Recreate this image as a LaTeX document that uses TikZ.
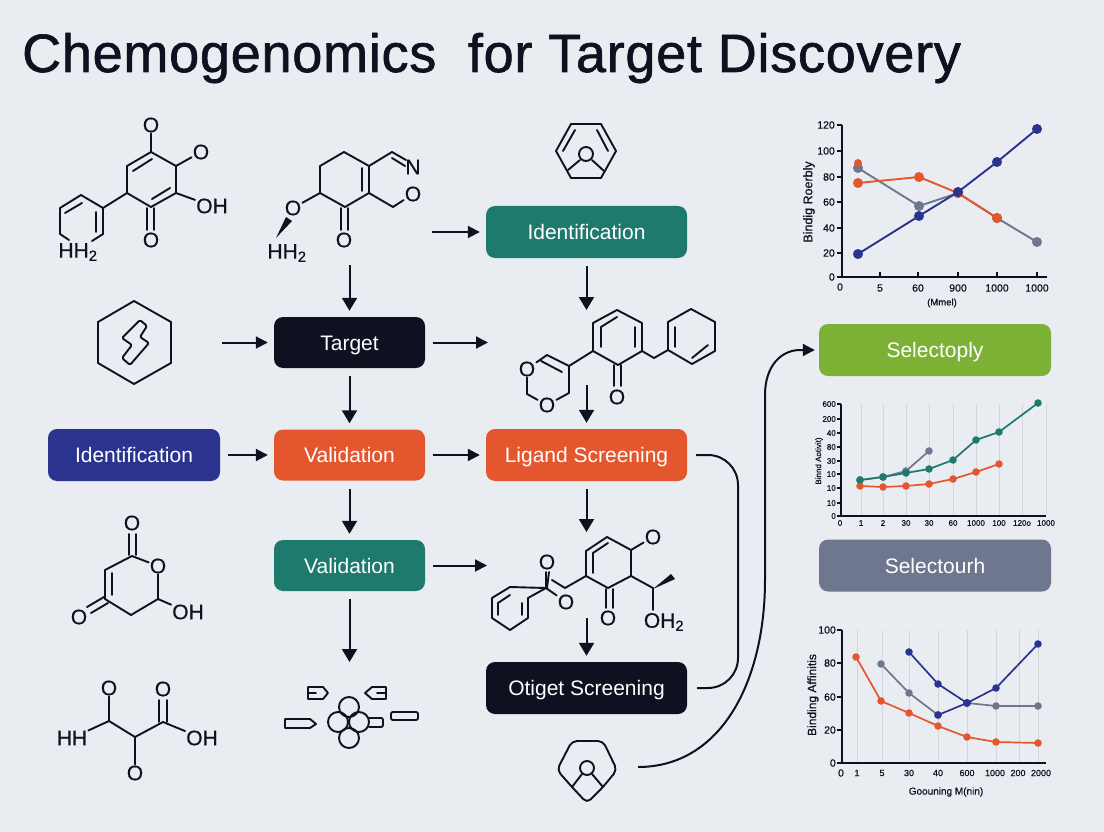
\documentclass[tikz,border=0pt]{standalone}
\usepackage{fontspec}
\setmainfont{Liberation Sans}
\newfontfamily\titlefont[FakeBold=1.2,LetterSpace=1.4]{Liberation Sans}
\newfontfamily\medfont[FakeBold=0.6]{Liberation Sans}
\usepackage{xcolor}
\usetikzlibrary{arrows.meta,calc}
\definecolor{bgcol}{HTML}{E9EDF1}
\definecolor{inkcol}{HTML}{0D1120}
\definecolor{tealcol}{HTML}{1D7A6C}
\definecolor{orangecol}{HTML}{E4572E}
\definecolor{navycol}{HTML}{2A348F}
\definecolor{limecol}{HTML}{7DB135}
\definecolor{greycol}{HTML}{6F778F}
\definecolor{gridcol}{HTML}{D3D7DC}
\tikzstyle{flowbox} = [rounded corners=9pt, minimum width=151pt, minimum height=51pt, inner sep=0pt, text=white, text height=15pt, text depth=0pt, font=\fontsize{21}{22}\selectfont]
\tikzstyle{widebox} = [flowbox, minimum width=201pt, minimum height=52pt]
\tikzstyle{sidebox} = [flowbox, minimum width=232pt, minimum height=52pt]
\tikzstyle{arrow} = [line width=2pt, draw=inkcol, -{Triangle[length=13pt,width=15pt]}, shorten >=6pt, shorten <=8pt]
\tikzstyle{harrow} = [arrow, -{Triangle[length=12pt,width=12pt]}]
\tikzstyle{link} = [line width=2pt, draw=inkcol]
\tikzstyle{bond} = [line width=1.9pt, draw=inkcol, line join=round, line cap=round]
\tikzstyle{atom} = [inner sep=1pt, text=inkcol, font=\medfont\fontsize{21}{21}\selectfont]
\tikzstyle{axisline} = [line width=1.2pt, draw=inkcol]
\tikzstyle{gridline} = [line width=0.7pt, draw=gridcol]
\tikzstyle{tickbig} = [inner sep=0pt, text=inkcol, font=\medfont\fontsize{10.5}{11}\selectfont]
\tikzstyle{ticksmall} = [inner sep=0pt, text=inkcol, font=\medfont\fontsize{8}{9}\selectfont]
\tikzstyle{serie} = [line width=1.9pt, line join=round, mark=*, mark size=4pt]
\tikzstyle{seriesmall} = [line width=1.7pt, line join=round, mark=*, mark size=2.9pt]
\begin{document}
\begin{tikzpicture}[x=1pt, y=-1pt]
    \fill[bgcol] (0,0) rectangle (1104,832);
    \useasboundingbox (0,0) rectangle (1104,832);
    \node[anchor=base west, inner sep=0pt, text=inkcol, font=\titlefont\fontsize{54}{56}\selectfont] (title) at (22,72) {Chemogenomics\ \ for Target Discovery};

    % flow boxes
    \node[flowbox, fill=inkcol] (target) at (349.5,342.5) {Target};
    \node[flowbox, fill=orangecol] (valid) at (349.5,455) {Validation};
    \node[flowbox, fill=tealcol] (validb) at (349.5,565.5) {Validation};
    \node[flowbox, fill=navycol, minimum width=172pt, minimum height=52pt] (ident) at (134,455) {Identification};
    \node[widebox, fill=tealcol] (identb) at (586.5,232) {Identification};
    \node[widebox, fill=orangecol] (ligand) at (586.5,455) {Ligand Screening};
    \node[widebox, fill=inkcol] (otiget) at (586.5,688) {Otiget Screening};
    \node[sidebox, fill=limecol] (selecta) at (935,350) {Selectoply};
    \node[sidebox, fill=greycol] (selectb) at (935,565.5) {Selectourh};

    % free ends of the arrows
    \coordinate (molb) at (349.5,257);
    \coordinate (molbr) at (424,232);
    \coordinate (hexa) at (214,342.5);
    \coordinate (mole) at (494,342.5);
    \coordinate (molf) at (493,565.5);
    \coordinate (clust) at (349.5,668);
    \coordinate (moletop) at (586.5,316);
    \coordinate (molebot) at (586.5,377);
    \coordinate (molftop) at (586.5,538);
    \coordinate (molfbot) at (586.5,610);
    \coordinate (ringend) at (630,767);

    % arrows
    \draw[arrow] (molb) -- (target);
    \draw[harrow] (molbr) -- (identb);
    \draw[harrow] (hexa) -- (target);
    \draw[harrow] (target) -- (mole);
    \draw[arrow] (target) -- (valid);
    \draw[harrow] (ident) -- (valid);
    \draw[harrow] (valid) -- (ligand);
    \draw[arrow] (valid) -- (validb);
    \draw[harrow] (validb) -- (molf);
    \draw[arrow] (validb) -- (clust);
    \draw[arrow] (identb) -- (moletop);
    \draw[arrow] (molebot) -- (ligand);
    \draw[arrow] (ligand) -- (molftop);
    \draw[arrow] (molfbot) -- (otiget);
    \draw[link, rounded corners=30pt, shorten <=9pt, shorten >=10pt] (ligand.east) -- (738,455) -- (738,688) -- (otiget.east);
    \draw[harrow, shorten >=4pt] (ringend) .. controls (722,767) and (765,680) .. (765,580) -- (765,395) .. controls (765,365) and (782,350) .. (800,350) -- (selecta.west);

    % molecule top left
    \node[atom] (aoa) at (151,125) {O};
    \node[atom] (aob) at (201,152) {O};
    \node[atom] (aoh) at (212,206) {OH};
    \node[atom] (aoc) at (151,240) {O};
    \node[atom] (ahh) at (78,252) {HH\textsubscript{2}};
    \draw[bond] (151,152) -- (176,166) -- (176,193) -- (151,207) -- (127,193) -- (127,166) -- cycle;
    \draw[bond] (133,171) -- (152,159);
    \draw[bond] (152,199) -- (170,188);
    \draw[bond] (151,152) -- (aoa);
    \draw[bond] (176,166) -- (aob);
    \draw[bond] (176,193) -- (aoh);
    \draw[bond] (147,208) -- (147,230);
    \draw[bond] (154,208) -- (154,230);
    \draw[bond] (127,193) -- (103,208) -- (81,195) -- (60,208) -- (60,234) -- (69,240);
    \draw[bond] (103,208) -- (103,234) -- (92,241);
    \draw[bond] (96,212) -- (96,232);
    \draw[bond] (65,213) -- (82,203);

    % molecule with the nitrogen
    \node[atom] (bn) at (413,167) {N};
    \node[atom] (bo) at (413,194) {O};
    \node[atom] (bol) at (293,208) {O};
    \node[atom] (boc) at (344,240) {O};
    \node[atom] (bhh) at (287,253) {HH\textsubscript{2}};
    \draw[bond] (344,152) -- (369,166) -- (369,193) -- (345,207) -- (320,193) -- (320,166) -- cycle;
    \draw[bond] (362,168) -- (362,191);
    \draw[bond] (369,166) -- (392,152) -- (406,160);
    \draw[bond] (392,158) -- (405,166);
    \draw[bond] (369,193) -- (393,207) -- (bo);
    \draw[bond] (320,193) -- (bol);
    \draw[bond] (341,208) -- (341,230);
    \draw[bond] (348,208) -- (348,230);
    \fill[inkcol] (276,238) -- (286,217) -- (292,221) -- cycle;

    % hexagon with the bolt
    \draw[bond] (134,301) -- (171,322) -- (171,363) -- (134,384) -- (98,363) -- (98,322) -- cycle;
    \draw[bond, rounded corners=1.5pt] (140,320) -- (147,326) -- (140,337) -- (149,343) -- (130,365) -- (122,358) -- (132,345) -- (122,338) -- cycle;

    % lactone
    \node[atom] (cot) at (132,523) {O};
    \node[atom] (cor) at (158,566) {O};
    \node[atom] (col) at (79,617) {O};
    \node[atom] (coh) at (188,612) {OH};
    \draw[bond] (129,534) -- (129,555);
    \draw[bond] (136,534) -- (136,555);
    \draw[bond] (cor) -- (132,556) -- (105,570) -- (105,599) -- (131,615) -- (158,599) -- (cor);
    \draw[bond] (112,573) -- (112,595);
    \draw[bond] (104,597) -- (87,607);
    \draw[bond] (108,603) -- (91,613);
    \draw[bond] (158,599) -- (coh);

    % open chain
    \node[atom] (doa) at (109,688) {O};
    \node[atom] (dob) at (163,689) {O};
    \node[atom] (doc) at (135,773) {O};
    \node[atom] (dhh) at (72,738) {HH};
    \node[atom] (doh) at (202,738) {OH};
    \draw[bond] (doa) -- (109,721) -- (135,737) -- (163,722) -- (doh);
    \draw[bond] (109,721) -- (dhh);
    \draw[bond] (135,737) -- (doc);
    \draw[bond] (159,700) -- (159,722);
    \draw[bond] (167,700) -- (167,722);

    % cluster
    \draw[bond] (349,707) circle (10);
    \draw[bond] (338,722) circle (10);
    \draw[bond] (359,722) circle (10);
    \draw[bond] (349,738) circle (10);
    \draw[bond] (308,687) -- (323,687) -- (328,693) -- (323,699) -- (308,699) -- cycle;
    \draw[bond] (308,693) -- (316,693);
    \draw[bond] (365,693) -- (372,687) -- (386,687) -- (386,699) -- (372,699) -- cycle;
    \draw[bond] (377,693) -- (386,693);
    \draw[bond] (285,719) -- (310,719) -- (316,724) -- (310,728) -- (285,728) -- cycle;
    \draw[bond, rounded corners=2pt] (369,718) -- (383,718) -- (383,727) -- (369,727);
    \draw[bond, rounded corners=2pt] (391,712) rectangle (418,720);

    % top hexagon
    \draw[bond] (571,124) -- (601,124) -- (616,151) -- (601,178) -- (571,178) -- (556,151) -- cycle;
    \draw[bond] (575,130) -- (563,151);
    \draw[bond] (597,130) -- (608,151);
    \draw[bond] (586,154) circle (7);
    \draw[bond] (580,160) -- (568,170);
    \draw[bond] (592,160) -- (604,171);

    % molecule below the first Identification
    \node[atom] (eo) at (617,397) {O};
    \node[atom] (eol) at (527,369) {O};
    \node[atom] (eob) at (547,405) {O};
    \draw[bond] (617,310) -- (642,323) -- (642,351) -- (618,365) -- (593,351) -- (593,323) -- cycle;
    \draw[bond] (617,317) -- (601,327) -- (601,347);
    \draw[bond] (635,327) -- (635,347);
    \draw[bond] (614,365) -- (614,386);
    \draw[bond] (621,365) -- (621,386);
    \draw[bond] (642,351) -- (654,358) -- (668,350) -- (668,322) -- (691,309) -- (715,322) -- (715,351) -- (692,364) -- (668,350);
    \draw[bond] (675,327) -- (675,347);
    \draw[bond] (692,358) -- (708,345);
    \draw[bond] (593,351) -- (569,366) -- (547,355) -- (eol);
    \draw[bond] (eol) -- (527,394) -- (eob) -- (569,393) -- (569,366);
    \draw[bond] (541,361) -- (562,372);

    % molecule below Ligand Screening
    \node[atom] (fo) at (653,537) {O};
    \node[atom] (foc) at (608,618) {O};
    \node[atom] (fot) at (547,562) {O};
    \node[atom] (fob) at (566,602) {O};
    \node[atom] (foh) at (664,622) {OH\textsubscript{2}};
    \draw[bond] (607,537) -- (631,550) -- (631,576) -- (608,588) -- (586,576) -- (586,551) -- cycle;
    \draw[bond] (608,543) -- (593,553) -- (593,573);
    \draw[bond] (631,550) -- (fo);
    \draw[bond] (606,589) -- (606,608);
    \draw[bond] (613,589) -- (613,608);
    \draw[bond] (631,576) -- (653,588) -- (653,610);
    \fill[inkcol] (653,589) -- (671,574) -- (675,579) -- cycle;
    \draw[bond] (586,576) -- (565,588) -- (552,580);
    \draw[bond] (546,572) -- (546,588) -- (fob);
    \draw[bond] (549,572) -- (547,588);
    \draw[bond] (546,588) -- (528,598) -- (528,618) -- (510,630) -- (492,618) -- (492,598) -- (510,587) -- cycle;
    \draw[bond] (498,603) -- (498,615);
    \draw[bond] (522,603) -- (522,615);
    \draw[bond] (498,603) -- (510,595);

    % bottom ring
    \draw[bond, rounded corners=5pt] (572,741) -- (603,741) -- (617,770) -- (603,787) -- (587,803) -- (572,787) -- (557,770) -- cycle;
    \draw[bond] (587,768) circle (7);
    \draw[bond] (582,774) -- (572,787);
    \draw[bond] (592,774) -- (603,787);

    % chart at the top
    \draw[axisline] (842,125) -- (842,277) -- (1047,277);
    \foreach \y/\t in {125/120,151/100,177/80,202/60,228/40,253/20,277/0} {
        \draw[axisline] (842,\y) -- (837,\y);
        \node[tickbig, anchor=east] (chaty\t) at (835,\y) {\t};
    }
    \foreach \x/\t/\n in {880/5/a,918/60/b,958/900/c,997/1000/d,1037/1000/e} {
        \draw[axisline] (\x,277) -- (\x,272);
        \node[tickbig] (chatx\n) at (\x,288) {\t};
    }
    \node[tickbig] (chatz) at (840,287) {0};
    \node[tickbig, font=\medfont\fontsize{9.5}{10}\selectfont] (chatlab) at (942,303) {(Mmel)};
    \node[tickbig, rotate=90, font=\medfont\fontsize{12.5}{13}\selectfont] (chatylab) at (809,202) {Bindig Roerbly};
    \draw[serie, color=greycol] plot coordinates {(858,168) (919,206) (958,193) (997,218) (1037,242)};
    \draw[serie, color=orangecol] plot coordinates {(858,183) (919,177) (958,193) (997,218)};
    \fill[orangecol] (858,163) circle (4);
    \draw[serie, color=navycol] plot coordinates {(858,254) (919,216) (958,192) (997,162) (1037,129)};

    % chart in the middle
    \foreach \x/\t/\n in {861/1/a,883/2/b,906/30/c,929/30/d,953/60/e,976/1000/f,999/100/g,1022/120o/h,1046/1000/i} {
        \draw[gridline] (\x,404) -- (\x,516);
        \node[ticksmall] (chbtx\n) at (\x,523) {\t};
    }
    \draw[axisline] (841,404) -- (841,516) -- (1046,516);
    \foreach \y/\t/\n in {404/600/a,419/200/b,433/40/c,447/80/d,461/30/e,474/10/f,488/10/g,503/10/h,516/0/i} {
        \draw[axisline] (841,\y) -- (837,\y);
        \node[ticksmall, anchor=east] (chbty\n) at (836,\y) {\t};
    }
    \node[ticksmall] (chbz) at (840,523) {0};
    \node[ticksmall, rotate=90] (chbylab) at (819,461) {Binnd Aotivit)};
    \draw[seriesmall, color=greycol] plot coordinates {(860,480) (883,477) (906,471) (929,451)};
    \draw[seriesmall, color=orangecol] plot coordinates {(860,486) (883,487) (906,486) (929,484) (953,479) (976,472) (999,464)};
    \draw[seriesmall, color=tealcol] plot coordinates {(860,480) (883,477) (906,473) (929,469) (953,460) (976,440) (999,432) (1038,403)};

    % chart at the bottom
    \foreach \x/\l/\t/\n in {857/857/1/a,882/882/5/b,909/909/30/c,938/938/40/d,967/967/600/e,996/995/1000/f,1019/1018/200/g,1038/1041/2000/h} {
        \draw[gridline] (\x,630) -- (\x,763);
        \node[tickbig, font=\medfont\fontsize{9}{10}\selectfont] (chctx\n) at (\l,773) {\t};
    }
    \draw[axisline] (842,630) -- (842,763) -- (1046,763);
    \foreach \y/\t in {630/100,663/80,697/60,730/20,763/0} {
        \draw[axisline] (842,\y) -- (837,\y);
        \node[tickbig, anchor=east] (chcty\t) at (836,\y) {\t};
    }
    \node[tickbig] (chcz) at (841,773) {0};
    \node[tickbig, font=\medfont\fontsize{10}{11}\selectfont] (chclab) at (946,792) {Goouning M(nin)};
    \node[tickbig, rotate=90, font=\medfont\fontsize{12}{13}\selectfont] (chcylab) at (813,695) {Binding Affinitis};
    \draw[seriesmall, color=orangecol] plot coordinates {(856,657) (881,701) (909,713) (938,726) (967,737) (996,742) (1038,743)};
    \draw[seriesmall, color=greycol] plot coordinates {(881,664) (909,693) (938,715)};
    \draw[seriesmall, color=greycol] plot coordinates {(967,703) (996,706) (1038,706)};
    \draw[seriesmall, color=navycol] plot coordinates {(909,652) (938,684) (967,703)};
    \draw[seriesmall, color=navycol] plot coordinates {(938,715) (967,703) (996,688) (1038,644)};
\end{tikzpicture}
\end{document}
